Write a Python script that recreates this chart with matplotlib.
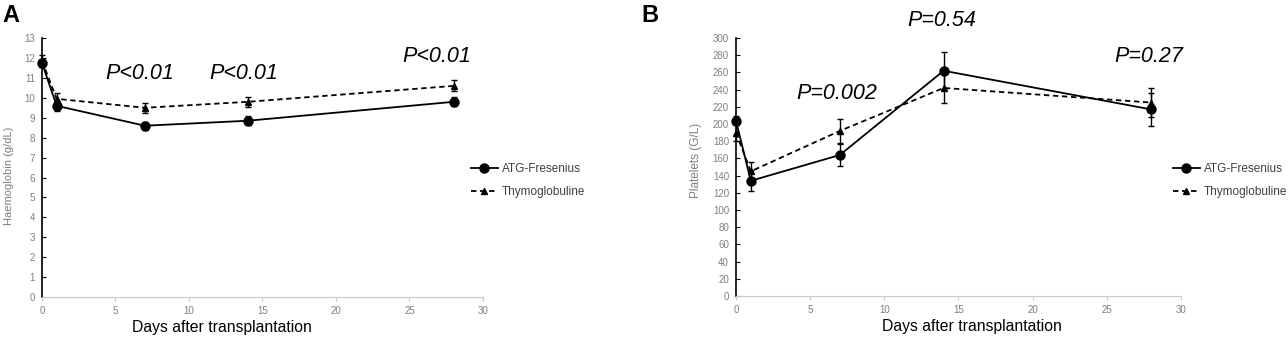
# haemoglobin and platelet counts after transplantation, two treatment groups
import numpy as np
import matplotlib.pyplot as plt
from matplotlib.lines import Line2D

plt.rcParams["font.family"] = ["Liberation Sans", "DejaVu Sans"]

# data
days = [0, 1, 7, 14, 28]
group_names = ["ATG-Fresenius", "Thymoglobuline"]

hb_atg = [11.75, 9.6, 8.6, 8.85, 9.8]
hb_atg_err = [0.2, 0.25, 0.2, 0.22, 0.22]
hb_thymo = [11.85, 9.95, 9.5, 9.8, 10.6]
hb_thymo_err = [0.3, 0.3, 0.25, 0.25, 0.28]

plt_atg = [204, 134, 164, 262, 217]
plt_atg_err = [5, 12, 13, 22, 19]
plt_thymo = [190, 145, 192, 242, 225]
plt_thymo_err = [10, 11, 14, 18, 17]

hb_pvalues = ["P<0.01", "P<0.01", "P<0.01"]
plt_pvalues = ["P=0.002", "P=0.54", "P=0.27"]

grey = "#7f7f7f"
dash = (0, (3, 2))

fig = plt.figure(figsize=(12.88, 3.43), dpi=100)
ax_a = fig.add_axes([0.0326, 0.134, 0.3424, 0.755])
ax_b = fig.add_axes([0.5714, 0.137, 0.3455, 0.752])


# draw both series with error bars on one panel
def draw_panel(ax, atg, atg_err, thymo, thymo_err):
    eb1 = ax.errorbar(days, atg, yerr=atg_err, color="black", lw=1.3, marker="o",
                      ms=6.5, capsize=2, elinewidth=1)
    eb2 = ax.errorbar(days, thymo, yerr=thymo_err, color="black", lw=1.3, ls=dash,
                      marker="^", ms=4.5, capsize=2, elinewidth=1)
    # markers at day 0 sit on the axis, so don't clip them
    for eb in [eb1, eb2]:
        for art in eb.get_children():
            art.set_clip_on(False)
    ax.set_xlim(0, 30)
    ax.set_xticks(np.arange(0, 31, 5))
    for s in ["top", "right"]:
        ax.spines[s].set_visible(False)
    ax.spines["left"].set_color("black")
    ax.spines["left"].set_linewidth(1.2)
    ax.spines["bottom"].set_color("#c8c8c8")
    ax.tick_params(axis="both", labelsize=7, labelcolor=grey, length=3)
    ax.tick_params(axis="x", color="#c8c8c8")
    ax.tick_params(axis="y", color="black", direction="in", pad=5)
    ax.set_xlabel("Days after transplantation", fontsize=11.3)
    handles = [Line2D([], [], color="black", lw=1.3, marker="o", ms=6.5),
               Line2D([], [], color="black", lw=1.3, ls=dash, marker="^", ms=4.5)]
    return handles


handles = draw_panel(ax_a, hb_atg, hb_atg_err, hb_thymo, hb_thymo_err)
ax_a.set_ylim(0, 13)
ax_a.set_yticks(np.arange(0, 14, 1))
ax_a.set_ylabel("Haemoglobin (g/dL)", fontsize=8, color=grey)
ax_a.yaxis.set_label_coords(-0.064, 0.467)
ax_a.xaxis.set_label_coords(0.408, -0.09)

draw_panel(ax_b, plt_atg, plt_atg_err, plt_thymo, plt_thymo_err)
ax_b.set_ylim(0, 300)
ax_b.set_yticks(np.arange(0, 301, 20))
ax_b.set_ylabel("Platelets (G/L)", fontsize=8.5, color=grey)
ax_b.yaxis.set_label_coords(-0.076, 0.527)
ax_b.xaxis.set_label_coords(0.53, -0.09)

# p-value labels
pa_pos = [(6.67, 11.24), (13.74, 11.24), (26.87, 12.05)]
for txt, (x, y) in zip(hb_pvalues, pa_pos):
    ax_a.text(x, y, txt, style="italic", fontsize=15.5, ha="center", va="center",
              clip_on=False)
pb_pos = [(6.81, 236), (13.89, 321), (27.85, 278)]
for txt, (x, y) in zip(plt_pvalues, pb_pos):
    ax_b.text(x, y, txt, style="italic", fontsize=15.5, ha="center", va="center",
              clip_on=False)

# legends
for ax, x in [(ax_a, 0.361), (ax_b, 0.906)]:
    ax.legend(handles, group_names, loc="center left", bbox_to_anchor=(x, 0.474),
              bbox_transform=fig.transFigure, frameon=False, fontsize=8.5,
              handlelength=2.3, handletextpad=0.3, borderpad=0, labelspacing=0.9,
              labelcolor="#404040")

# panel letters
fig.text(0.002, 0.955, "A", fontsize=17, fontweight="bold", va="center")
fig.text(0.498, 0.955, "B", fontsize=17, fontweight="bold", va="center")

plt.savefig("out.png", dpi=100)
